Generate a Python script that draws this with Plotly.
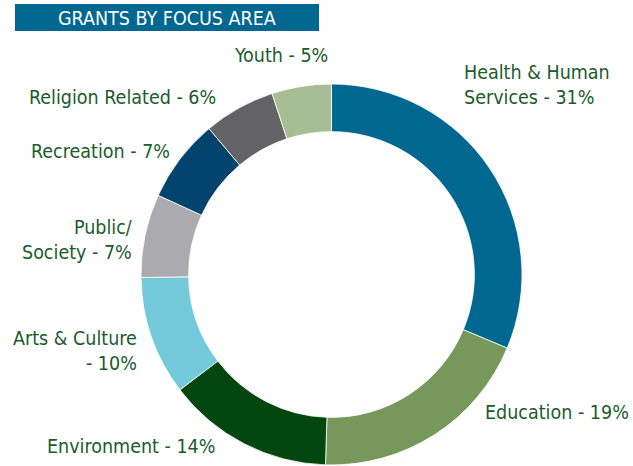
import plotly.graph_objects as go

W, H = 633, 466

categories = ["Health & Human Services", "Education", "Environment", "Arts & Culture",
              "Public/ Society", "Recreation", "Religion Related", "Youth"]
values = [31, 19, 14, 10, 7, 7, 6, 5]
label_text = ["Health & Human<br>Services - 31%", "Education - 19%", "Environment - 14%",
              "Arts & Culture<br>- 10%", "Public/<br>Society - 7%", "Recreation - 7%",
              "Religion Related - 6%", "Youth - 5%"]
colors = ["#006890", "#76985A", "#03470F", "#74C9DA", "#ABABAF", "#02446E", "#636366", "#A7BE95"]

# label placement (pixel anchor, anchor side)
label_pos = [(462, 85, "left"), (631, 412, "right"), (217, 446, "right"), (139, 351, "right"),
             (134, 240, "right"), (172, 151, "right"), (218, 97, "right"), (330, 56, "right")]

FONT = "DejaVu Sans Condensed, Liberation Sans Narrow, Arial Narrow, sans-serif"
TXT = "#1A5C2A"

def px(x, y):
    return x / W, 1 - y / H

fig = go.Figure(go.Pie(
    labels=categories, values=values, sort=False, direction="clockwise", rotation=0,
    hole=0.75, textinfo="none", showlegend=False,
    marker=dict(colors=colors, line=dict(color="rgba(255,255,255,0.8)", width=1)),
    domain=dict(x=[141 / W, 522 / W], y=[1 - 465 / H, 1 - 84 / H]),
))

annotations = []
for t, (x, y, side) in zip(label_text, label_pos):
    ax, ay = px(x, y)
    annotations.append(dict(x=ax, y=ay, xref="paper", yref="paper", text=t, showarrow=False,
                            xanchor=side, yanchor="middle", align=side,
                            font=dict(family=FONT, size=19.5, color=TXT)))

tx, ty = px(167, 18)
annotations.append(dict(x=tx, y=ty, xref="paper", yref="paper", text="GRANTS BY FOCUS AREA",
                        showarrow=False, xanchor="center", yanchor="middle",
                        font=dict(family=FONT, size=19.5, color="white")))

x0, y1 = px(15, 4)
x1, y0 = px(319, 31)
fig.update_layout(
    width=W, height=H, margin=dict(l=0, r=0, t=0, b=0),
    paper_bgcolor="white", plot_bgcolor="white",
    annotations=annotations,
    shapes=[dict(type="rect", xref="paper", yref="paper", x0=x0, x1=x1, y0=y0, y1=y1,
                 fillcolor="#006890", line=dict(width=0), layer="below")],
)

fig.write_html("out.html", config={"displayModeBar": False},
               post_script="document.body.style.margin='0';")
